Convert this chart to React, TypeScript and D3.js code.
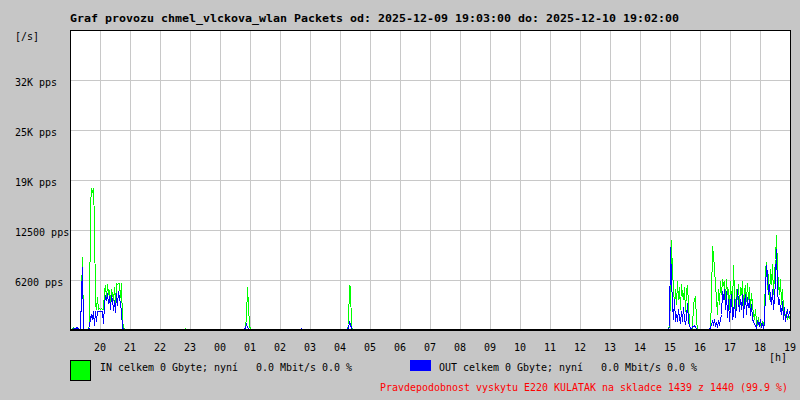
import React, { useEffect } from "react";
import * as d3 from "d3";

const W = 800;
const H = 400;
const TITLE = "Graf provozu chmel_vlckova_wlan Packets od: 2025-12-09 19:03:00 do: 2025-12-10 19:02:00";
const Y_UNIT = "[/s]";
const X_UNIT = "[h]";
const LEGEND_IN = "IN celkem 0 Gbyte; nyní   0.0 Mbit/s 0.0 %";
const LEGEND_OUT = "OUT celkem 0 Gbyte; nyní   0.0 Mbit/s 0.0 %";
const FOOTER = "Pravdepodobnost vyskytu E220 KULATAK na skladce 1439 z 1440 (99.9 %)";

const DOMAIN_START = "2025-12-09 19:00";
const DOMAIN_END = "2025-12-10 19:00";
const Y_MAX = 37500;
const Y_TICKS = [6250, 12500, 18750, 25000, 31250];
const Y_TICK_LABELS = ["6200 pps", "12500 pps", "19K pps", "25K pps", "32K pps"];
const STEP_MINUTES = 2;

// Segments of non-zero traffic (samples every 2 minutes)
const SEG_A_START = "2025-12-09 19:02";
const IN_A = [0, 150, 200, 150, 100, 100, 0, 0, 0, 0, 4400, 9000, 0, 0, 0, 0, 0, 0, 600, 15500, 17500, 17200, 17600, 13500, 3300, 2500, 4000, 2500, 2600, 2500, 2600, 2500, 2500, 4700, 5500, 4000, 5600, 4500, 4800, 3500, 5000, 4500, 3600, 5200, 3400, 5700, 5600, 5800, 5700, 4000, 5800, 1000, 400, 0];
const OUT_A = [0, 0, 100, 100, 0, 200, 200, 0, 0, 0, 4400, 7800, 0, 0, 0, 0, 0, 0, 300, 1500, 1700, 1200, 2200, 500, 2200, 1000, 2200, 2300, 2200, 2300, 2300, 2200, 800, 3000, 4300, 3600, 4500, 3200, 4100, 2500, 4200, 3800, 2400, 3600, 2100, 4500, 3000, 4800, 4000, 3300, 2200, 200, 0, 0];

const SEG_B_START = "2025-12-09 22:48";
const IN_B = [0, 150, 0];
const OUT_B = [0, 0, 0];

const SEG_C_START = "2025-12-10 00:48";
const IN_C = [0, 200, 1500, 5300, 3000, 500, 0];
const OUT_C = [0, 300, 600, 300, 100, 0, 0];

const SEG_D_START = "2025-12-10 02:40";
const IN_D = [0, 0, 0];
const OUT_D = [0, 100, 0];

const SEG_E_START = "2025-12-10 04:14";
const IN_E = [0, 600, 5500, 5300, 400, 0];
const OUT_E = [0, 300, 900, 600, 100, 0];

const SEG_F_START = "2025-12-10 14:56";
const IN_F = [0, 625, 3750, 11125, 6875, 5625, 2500, 5000, 3125, 6000, 3750, 5250, 2500, 5625, 4375, 3750, 5250, 2250, 4750, 5500, 3125, 750, 0, 0, 250, 3125, 3750, 4000, 1250, 0];
const OUT_F = [0, 375, 10250, 6250, 3125, 1250, 3750, 1000, 1875, 1000, 2500, 1500, 750, 2250, 1000, 2750, 1250, 625, 1500, 3250, 1000, 375, 250, 0, 375, 375, 500, 250, 125, 0];

const SEG_G_START = "2025-12-10 16:18";
const IN_G = [0, 250, 3750, 10375, 9375, 7500, 5625, 3750, 1875, 5000, 3125, 6000, 4375, 6250, 5625, 6000, 3750, 6250, 4375, 5000, 2500, 6000, 3750, 2750, 8000, 4375, 2500, 5000, 3750, 5625, 3125, 5250, 4375, 6000, 2750, 4750, 5500, 3500, 5750, 3750, 5250, 2500, 4500, 3125, 1875, 1250, 2500, 1000, 500, 1500, 375, 750, 250, 1000, 500, 1250, 7500, 8375, 5000, 6875, 3750, 7500, 5625, 8125, 4375, 6875, 8750, 11750, 7500, 5625, 4375, 6250, 3125, 5000, 2500, 1875, 1500, 2250, 1250, 1750, 1500, 1250];
const OUT_G = [0, 250, 625, 1000, 625, 1250, 500, 750, 375, 1000, 625, 1250, 1875, 4750, 3750, 5000, 2500, 4750, 1500, 3750, 1000, 3125, 4375, 1250, 1875, 3750, 1500, 3125, 5000, 3500, 2250, 3750, 2500, 4375, 1500, 3500, 4375, 1875, 4000, 2750, 3750, 1750, 3125, 1250, 1000, 625, 500, 250, 1000, 750, 500, 1250, 375, 625, 250, 750, 5000, 8000, 6875, 4375, 5625, 3750, 3125, 5000, 2500, 3750, 6250, 10000, 5000, 3125, 3750, 2500, 1875, 3500, 1250, 2750, 1000, 1875, 2500, 1500, 2250, 1750];

const SEGMENTS = [
  { start: SEG_A_START, inV: IN_A, outV: OUT_A },
  { start: SEG_B_START, inV: IN_B, outV: OUT_B },
  { start: SEG_C_START, inV: IN_C, outV: OUT_C },
  { start: SEG_D_START, inV: IN_D, outV: OUT_D },
  { start: SEG_E_START, inV: IN_E, outV: OUT_E },
  { start: SEG_F_START, inV: IN_F, outV: OUT_F },
  { start: SEG_G_START, inV: IN_G, outV: OUT_G },
];

const BG = "#c6c6c6";
const GRID = "#c8c8c8";
const GREEN = "#00ff00";
const BLUE = "#0000ff";
const RED = "#ff0000";
const MONO = "'DejaVu Sans Mono', monospace";

export default function App() {
  useEffect(() => {
    document.body.style.margin = "0";
  }, []);

  const parse = d3.timeParse("%Y-%m-%d %H:%M");
  const t0 = parse(DOMAIN_START) as Date;
  const t1 = parse(DOMAIN_END) as Date;
  const left = 70, right = 790, top = 30, bottom = 330;

  const x = d3.scaleTime().domain([t0, t1]).range([left, right]);
  const y = d3.scaleLinear().domain([0, Y_MAX]).range([bottom, top]);

  const hourTicks = x.ticks(d3.timeHour.every(1) as any).filter((d) => +d > +t0);
  const fmtHour = d3.timeFormat("%H");

  type P = { t: Date; v: number };
  const line = d3
    .line<P>()
    .x((d) => Math.round(x(d.t)) + 0.5)
    .y((d) => Math.round(y(d.v)) - 0.5);

  const toPts = (start: string, vals: number[]): P[] => {
    const s = parse(start) as Date;
    return vals.map((v, i) => ({ t: d3.timeMinute.offset(s, i * STEP_MINUTES), v }));
  };

  return (
    <svg width={W} height={H} style={{ position: "absolute", left: 0, top: 0, display: "block" }}>
      <rect x={0} y={0} width={W} height={H} fill={BG} />
      <rect x={left} y={top} width={right - left} height={bottom - top} fill="#ffffff" />
      {/* grid */}
      {hourTicks
        .filter((d) => +d < +t1)
        .map((d, i) => (
          <line key={"gx" + i} x1={Math.round(x(d)) + 0.5} x2={Math.round(x(d)) + 0.5} y1={top} y2={bottom} stroke={GRID} strokeWidth={1} shapeRendering="crispEdges" />
        ))}
      {Y_TICKS.map((v, i) => (
        <line key={"gy" + i} x1={left - 1} x2={right + 2} y1={Math.round(y(v)) + 0.5} y2={Math.round(y(v)) + 0.5} stroke={GRID} strokeWidth={1} shapeRendering="crispEdges" />
      ))}
      {/* series */}
      {SEGMENTS.map((s, i) => (
        <path key={"in" + i} d={line(toPts(s.start, s.inV)) || ""} fill="none" stroke={GREEN} strokeWidth={1} shapeRendering="crispEdges" />
      ))}
      {SEGMENTS.map((s, i) => (
        <path key={"out" + i} d={line(toPts(s.start, s.outV)) || ""} fill="none" stroke={BLUE} strokeWidth={1} shapeRendering="crispEdges" />
      ))}
      {/* frame */}
      <line x1={left} x2={right + 1} y1={top + 0.5} y2={top + 0.5} stroke="#000" strokeWidth={1} shapeRendering="crispEdges" />
      <line x1={left + 0.5} x2={left + 0.5} y1={top} y2={bottom} stroke="#000" strokeWidth={1} shapeRendering="crispEdges" />
      <line x1={right + 0.5} x2={right + 0.5} y1={top} y2={bottom} stroke="#000" strokeWidth={1} shapeRendering="crispEdges" />
      <line x1={left} x2={right + 1} y1={bottom} y2={bottom} stroke="#000" strokeWidth={2} shapeRendering="crispEdges" />
      {/* title */}
      <text x={70} y={22} fontFamily={MONO} fontWeight="bold" fontSize={11} textLength={609} lengthAdjust="spacingAndGlyphs" fill="#000">
        {TITLE}
      </text>
      {/* y labels */}
      <text x={15} y={40} fontFamily={MONO} fontSize={10} fill="#000">{Y_UNIT}</text>
      {Y_TICKS.map((v, i) => (
        <text key={"yl" + i} x={15} y={Math.round(y(v)) + 6} fontFamily={MONO} fontSize={10} fill="#000">
          {Y_TICK_LABELS[i]}
        </text>
      ))}
      {/* x labels */}
      {hourTicks.map((d, i) => (
        <text key={"xl" + i} x={Math.round(x(d))} y={351} textAnchor="middle" fontFamily={MONO} fontSize={10} fill="#000">
          {fmtHour(d)}
        </text>
      ))}
      <text x={769} y={361} fontFamily={MONO} fontSize={10} fill="#000">{X_UNIT}</text>
      {/* legend */}
      <rect x={70.5} y={360.5} width={20} height={20} fill={GREEN} stroke="#000" strokeWidth={1} shapeRendering="crispEdges" />
      <text x={100} y={371} fontFamily={MONO} fontSize={10} fill="#000" style={{ whiteSpace: "pre" }} textLength={252} lengthAdjust="spacingAndGlyphs">
        {LEGEND_IN}
      </text>
      <rect x={410} y={360} width={21} height={11} fill={BLUE} shapeRendering="crispEdges" />
      <text x={439} y={371} fontFamily={MONO} fontSize={10} fill="#000" style={{ whiteSpace: "pre" }} textLength={258} lengthAdjust="spacingAndGlyphs">
        {LEGEND_OUT}
      </text>
      <text x={380} y={391} fontFamily={MONO} fontSize={10} fill={RED} style={{ whiteSpace: "pre" }} textLength={408} lengthAdjust="spacingAndGlyphs">
        {FOOTER}
      </text>
    </svg>
  );
}
